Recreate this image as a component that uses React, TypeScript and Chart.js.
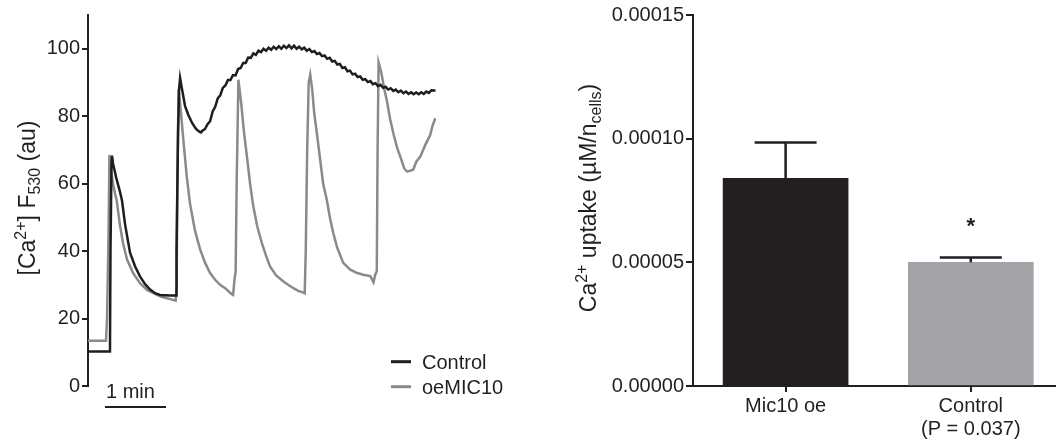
import React, { useEffect, useRef } from "react";
import { Chart, registerables } from "chart.js";

Chart.register(...registerables);

const FONT = '"Liberation Sans", Arial, Helvetica, sans-serif';
const INK = "#231f20";

// ---- Left panel: cytosolic Ca2+ traces, [time (s), F530 (au)] ----
const controlTrace: [number, number][] = [
  [0, 10.2], [21.6, 10.2], [22.1, 40], [23.1, 66], [23.6, 68.3], [24.6, 66], [27.5, 62],
  [31.5, 57.5], [33.4, 55], [36.4, 48], [41.3, 39.5], [46.2, 35.5], [51.1, 32.5], [56.1, 30.2],
  [61, 28.6], [65.9, 27.5], [70.8, 27], [80.7, 26.8], [86.6, 26.8], [87.0, 40], [88.5, 75],
  [89.5, 88], [90.5, 91.3], [92.4, 88], [95.4, 83], [98.4, 80.5], [102.3, 78], [106.2, 76.2],
  [109, 75.5], [111.1, 75.2],
  [112.5, 75.7], [115, 76.2], [117.5, 77.6], [120, 78.5], [122.5, 81.4], [125, 82.8],
  [127.5, 85.3], [130, 86.2], [132.5, 88.4], [135, 89.1], [137.5, 90.7], [140, 90.7],
  [142.5, 92.2], [145, 92.1], [147.5, 94.0], [150, 94.3], [152.5, 95.8], [155, 95.8],
  [157.5, 97.4], [160, 97.3], [162.5, 98.6], [165, 98.2], [167.5, 99.4], [170, 99.0],
  [172.5, 100.0], [175, 99.4], [177.5, 100.3], [180, 99.7], [182.5, 100.6], [185, 99.9],
  [187.5, 100.7], [190, 100.0], [192.5, 100.9], [195, 100.2], [197.5, 101.0], [200, 100.1],
  [202.5, 100.9], [205, 100.0], [207.5, 100.6], [210, 99.8], [212.5, 100.3], [215, 99.4],
  [217.5, 99.9], [220, 99.0], [222.5, 99.3], [225, 98.4], [227.5, 98.7], [230, 97.8],
  [232.5, 98.0], [235, 97.0], [237.5, 97.3], [240, 96.2], [242.5, 96.4], [245, 95.3],
  [247.5, 95.5], [250, 94.3], [252.5, 94.5], [255, 93.3], [257.5, 93.5], [260, 92.4],
  [262.5, 92.6], [265, 91.6], [267.5, 91.8], [270, 90.8], [272.5, 91.0], [275, 90.1],
  [277.5, 90.4], [280, 89.5], [282.5, 89.8], [285, 88.9], [287.5, 89.3], [290, 88.4],
  [292.5, 88.7], [295, 87.9], [297.5, 88.3], [300, 87.5], [302.5, 87.9], [305, 87.1],
  [307.5, 87.6], [310, 86.8], [312.5, 87.3], [315, 86.6], [317.5, 87.1], [320, 86.5],
  [322.5, 87.0], [325, 86.5], [327.5, 87.1], [330, 86.6], [332.5, 87.3], [335, 86.9],
  [337.5, 87.7], [340, 87.6], [341.5, 87.6],
];

const oeMic10Trace: [number, number][] = [
  [0, 13.4], [17.7, 13.4], [18.7, 20], [20.2, 45], [21.1, 68.5], [22.6, 64], [24.6, 60],
  [26.6, 57], [28.2, 55], [31.5, 47.5], [34.4, 42.4], [38.4, 37.5], [44.3, 33.5], [51.1, 30.5],
  [58, 28.5], [63.9, 27.6], [70.8, 26.6], [76.7, 26.1], [82.6, 25.6], [86.1, 25.3],
  [87.1, 29], [87.8, 60], [89, 88], [90.5, 84], [93.7, 73], [97.1, 62], [100.3, 54],
  [105.2, 46], [110.2, 40.5], [115.1, 36.5], [120, 33.5], [124.9, 31.5], [129.8, 30],
  [134.8, 29], [141.3, 27.2], [142.6, 27], [144.1, 32], [145.1, 34], [146.1, 60],
  [147.8, 90.8], [150.5, 84], [153.4, 75], [156.4, 67.5], [159.3, 60], [162.3, 53.5],
  [166.2, 47.5], [170.8, 42.4], [175.1, 38.5], [179, 35.4], [184.9, 32.8], [192.1, 31],
  [196.7, 30], [201.9, 29], [206.6, 28.2], [211.8, 27.7], [213, 27.5], [214, 40],
  [215.4, 70], [216.9, 90], [218.4, 92.3], [220.3, 88], [222.3, 81], [224.9, 75],
  [228.2, 67], [231.1, 60], [234.8, 55], [238, 49.5], [241, 45.4], [244.9, 41],
  [250.8, 36.5], [257.7, 34.5], [264.6, 33.5], [270.5, 33], [277.4, 32.6], [280.6, 30.8],
  [282.3, 33], [283.8, 34], [284.6, 70], [285.6, 95.9], [288.2, 93], [291.2, 88],
  [293.8, 84.5], [297, 79], [300, 75], [303.9, 70.5], [306.9, 68], [310.8, 64.5],
  [313.4, 63.6], [316.7, 63.8], [319.7, 64.2], [322.6, 66.5], [326.6, 68], [331.5, 71.5],
  [336.4, 74.5], [338.4, 77], [341.3, 79.4],
];

const traceNames = ["Control", "oeMIC10"];
const traceColors = ["#1e1e1e", "#8a8a8a"];
const traceTicks = [0, 20, 40, 60, 80, 100];
const timeSpan = [0, 342];
const scaleBarStart = 16.7;
const scaleBarSeconds = 60;
const scaleBarLabel = "1 min";

// ---- Right panel: mitochondrial Ca2+ uptake ----
const groups: (string | string[])[] = ["Mic10 oe", ["Control", "(P = 0.037)"]];
const uptakeMean = [0.000084, 0.00005];
const uptakeSem = [0.0000144, 0.000002];
const significance = ["", "*"];
const barColors = ["#231f20", "#a3a2a7"];
const uptakeTicks = [0, 0.00005, 0.0001, 0.00015];
const uptakeTickLabels = ["0.00000", "0.00005", "0.00010", "0.00015"];

type Part = { text: string; mode: "n" | "sup" | "sub" };

const leftTitle: Part[] = [
  { text: "[Ca", mode: "n" },
  { text: "2+", mode: "sup" },
  { text: "] F", mode: "n" },
  { text: "530", mode: "sub" },
  { text: " (au)", mode: "n" },
];
const rightTitle: Part[] = [
  { text: "Ca", mode: "n" },
  { text: "2+", mode: "sup" },
  { text: " uptake (\u00b5M/n", mode: "n" },
  { text: "cells", mode: "sub" },
  { text: ")", mode: "n" },
];

const TICK_SIZE = 20;
const TITLE_SIZE = 23;

function drawVerticalRich(ctx: CanvasRenderingContext2D, parts: Part[], cx: number, cy: number, size: number) {
  const small = Math.round(size * 0.68);
  ctx.save();
  ctx.translate(cx, cy);
  ctx.rotate(-Math.PI / 2);
  const widths = parts.map((p) => {
    ctx.font = `${p.mode === "n" ? size : small}px ${FONT}`;
    return ctx.measureText(p.text).width;
  });
  const total = widths.reduce((a, b) => a + b, 0);
  let x = -total / 2;
  ctx.fillStyle = INK;
  ctx.textBaseline = "alphabetic";
  ctx.textAlign = "left";
  const base = size * 0.36;
  parts.forEach((p, i) => {
    ctx.font = `${p.mode === "n" ? size : small}px ${FONT}`;
    let dy = base;
    if (p.mode === "sup") dy -= size * 0.42;
    if (p.mode === "sub") dy += size * 0.22;
    ctx.fillText(p.text, x, dy);
    x += widths[i];
  });
  ctx.restore();
}

const traceDecor = {
  id: "traceDecor",
  afterDraw(chart: any) {
    const ctx: CanvasRenderingContext2D = chart.ctx;
    const xs = chart.scales.x;
    drawVerticalRich(ctx, leftTitle, 27, 198, TITLE_SIZE);

    // time scale bar
    const x0 = xs.getPixelForValue(scaleBarStart);
    const x1 = xs.getPixelForValue(scaleBarStart + scaleBarSeconds);
    ctx.save();
    ctx.strokeStyle = INK;
    ctx.lineWidth = 2;
    ctx.beginPath();
    ctx.moveTo(x0, 407);
    ctx.lineTo(x1, 407);
    ctx.stroke();
    ctx.fillStyle = INK;
    ctx.font = `${TICK_SIZE}px ${FONT}`;
    ctx.textAlign = "left";
    ctx.textBaseline = "alphabetic";
    ctx.fillText(scaleBarLabel, x0 + 1, 398);

    // legend
    traceNames.forEach((name, i) => {
      const y = 361.7 + i * 25;
      ctx.strokeStyle = traceColors[i];
      ctx.lineWidth = 3;
      ctx.beginPath();
      ctx.moveTo(391, y);
      ctx.lineTo(411, y);
      ctx.stroke();
      ctx.fillStyle = INK;
      ctx.fillText(name, 422, y + 7);
    });
    ctx.restore();
  },
};

const barDecor = {
  id: "barDecor",
  afterDatasetsDraw(chart: any) {
    const ctx: CanvasRenderingContext2D = chart.ctx;
    const ys = chart.scales.y;
    const meta = chart.getDatasetMeta(0);
    ctx.save();
    ctx.strokeStyle = INK;
    ctx.lineWidth = 2.5;
    meta.data.forEach((el: any, i: number) => {
      const top = ys.getPixelForValue(uptakeMean[i] + uptakeSem[i]);
      ctx.beginPath();
      ctx.moveTo(el.x, el.y);
      ctx.lineTo(el.x, top);
      ctx.moveTo(el.x - 31, top);
      ctx.lineTo(el.x + 31, top);
      ctx.stroke();
      if (significance[i]) {
        ctx.fillStyle = INK;
        ctx.font = `bold 22px ${FONT}`;
        ctx.textAlign = "center";
        ctx.textBaseline = "middle";
        ctx.fillText(significance[i], el.x, top - 30);
      }
    });
    ctx.restore();
  },
  afterDraw(chart: any) {
    drawVerticalRich(chart.ctx, rightTitle, 48, 198, TITLE_SIZE);
  },
};

export default function App() {
  const leftRef = useRef<HTMLCanvasElement>(null);
  const rightRef = useRef<HTMLCanvasElement>(null);

  useEffect(() => {
    const toPoints = (tr: [number, number][]) => tr.map(([x, y]) => ({ x, y }));
    const traces = [controlTrace, oeMic10Trace];

    const left = new Chart(leftRef.current!, {
      type: "line",
      data: {
        datasets: traces.map((tr, i) => ({
          label: traceNames[i],
          data: toPoints(tr),
          borderColor: traceColors[i],
          borderWidth: 2.5,
          pointRadius: 0,
          tension: 0,
          fill: false,
        })),
      },
      options: {
        animation: false,
        responsive: false,
        layout: { padding: { left: 0, top: 15, right: 104, bottom: 59 } },
        plugins: { legend: { display: false }, tooltip: { enabled: false } },
        scales: {
          x: { type: "linear", min: timeSpan[0], max: timeSpan[1], display: false },
          y: {
            min: 0,
            max: 110,
            afterBuildTicks: (s: any) => {
              s.ticks = traceTicks.map((v) => ({ value: v }));
            },
            afterFit: (s: any) => {
              s.width = 88;
            },
            ticks: { color: INK, font: { family: FONT, size: TICK_SIZE }, padding: 2 },
            grid: { display: true, drawOnChartArea: false, drawTicks: true, tickLength: 6, color: INK, lineWidth: 2 },
            border: { display: true, color: INK, width: 2 },
          },
        },
      },
      plugins: [traceDecor],
    } as any);

    const right = new Chart(rightRef.current!, {
      type: "bar",
      data: {
        datasets: [
          {
            data: uptakeMean.map((v, i) => ({ x: i, y: v })),
            backgroundColor: barColors,
            borderWidth: 0,
            barThickness: 125,
          },
        ],
      },
      options: {
        animation: false,
        responsive: false,
        layout: { padding: { left: 0, top: 15, right: 0, bottom: 0 } },
        plugins: { legend: { display: false }, tooltip: { enabled: false } },
        scales: {
          x: {
            type: "linear",
            min: -0.5,
            max: 1.46,
            offset: false,
            afterBuildTicks: (s: any) => {
              s.ticks = groups.map((_, i) => ({ value: i }));
            },
            afterFit: (s: any) => {
              s.height = 59;
            },
            ticks: {
              color: INK,
              font: { family: FONT, size: TICK_SIZE, lineHeight: 1.15 },
              padding: 3,
              maxRotation: 0,
              autoSkip: false,
              callback: (v: any) => groups[Math.round(v)] ?? "",
            },
            grid: {
              display: true,
              offset: false,
              drawOnChartArea: false,
              drawTicks: true,
              tickLength: 6,
              color: INK,
              lineWidth: 2,
            },
            border: { display: true, color: INK, width: 2 },
          },
          y: {
            min: 0,
            max: 0.00015,
            afterBuildTicks: (s: any) => {
              s.ticks = uptakeTicks.map((v) => ({ value: v }));
            },
            afterFit: (s: any) => {
              s.width = 153;
            },
            ticks: {
              color: INK,
              font: { family: FONT, size: TICK_SIZE },
              padding: 2,
              callback: (_v: any, i: number) => uptakeTickLabels[i],
            },
            grid: { display: true, drawOnChartArea: false, drawTicks: true, tickLength: 7, color: INK, lineWidth: 2 },
            border: { display: true, color: INK, width: 2 },
          },
        },
      },
      plugins: [barDecor],
    } as any);

    return () => {
      left.destroy();
      right.destroy();
    };
  }, []);

  return (
    <div style={{ position: "fixed", left: 0, top: 0, width: 1056, height: 445, background: "#fff" }}>
      <canvas ref={leftRef} width={540} height={445} style={{ position: "absolute", left: 0, top: 0, width: 540, height: 445 }} />
      <canvas ref={rightRef} width={516} height={445} style={{ position: "absolute", left: 540, top: 0, width: 516, height: 445 }} />
    </div>
  );
}
